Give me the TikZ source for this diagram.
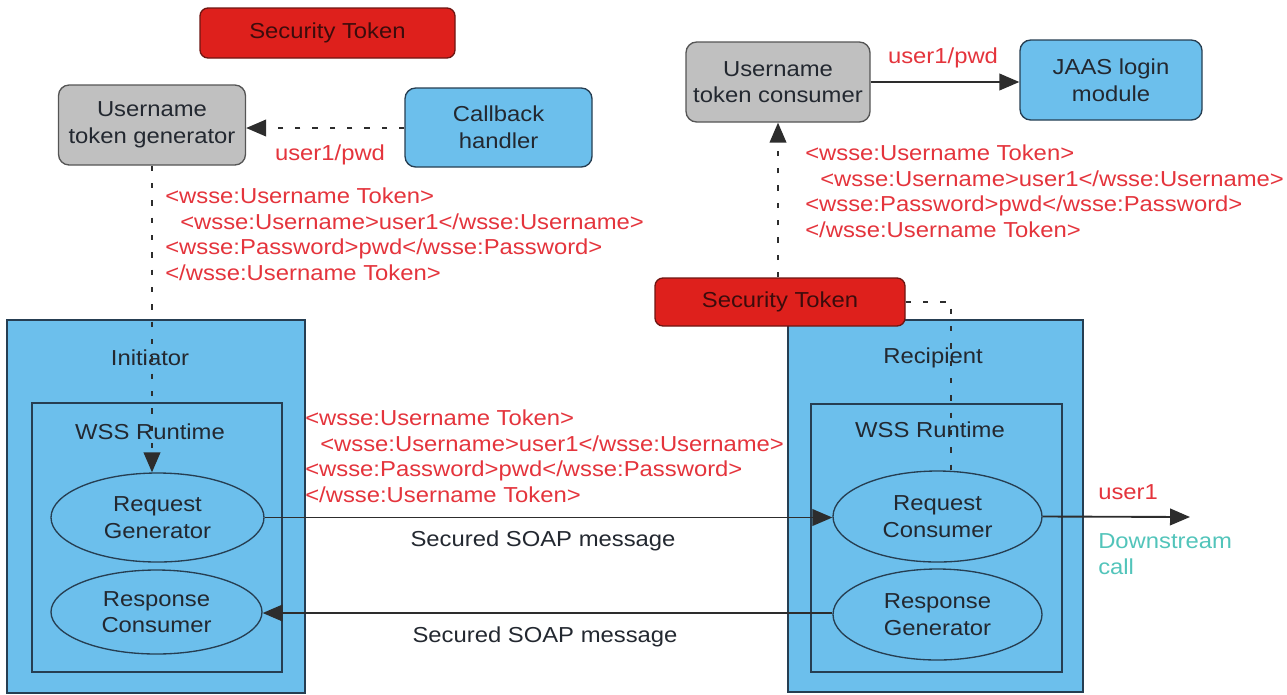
\documentclass[tikz,border=0pt]{standalone}
\usepackage{fontspec}
\setmainfont{Liberation Sans}[FakeStretch=1.1]
\usetikzlibrary{arrows.meta,shapes.geometric}
\definecolor{boxblue}{RGB}{108,191,236}
\definecolor{edgeblue}{RGB}{38,62,82}
\definecolor{tokred}{RGB}{222,32,28}
\definecolor{edgered}{RGB}{110,22,18}
\definecolor{greybox}{RGB}{192,192,192}
\definecolor{edgegrey}{RGB}{85,85,85}
\definecolor{txtred}{RGB}{228,52,60}
\definecolor{txtteal}{RGB}{82,196,186}
\definecolor{lnk}{RGB}{45,45,45}
\definecolor{txtdark}{RGB}{35,40,48}
\definecolor{txttok}{RGB}{60,12,12}
\begin{document}
\begin{tikzpicture}[x=0.75pt,y=-0.75pt,
  every node/.style={font=\fontsize{16.25}{20}\selectfont, inner sep=0pt, text=txtdark},
  sz/.style 2 args={minimum width=#1*0.75pt, minimum height=#2*0.75pt},
  tokbox/.style={draw=edgered, fill=tokred, line width=1pt, rounded corners=6pt, text=txttok},
  greyb/.style={draw=edgegrey, fill=greybox, line width=1pt, rounded corners=8pt, align=center},
  blueb/.style={draw=edgeblue, fill=boxblue, line width=1pt, rounded corners=8pt, align=center},
  frame/.style={draw=edgeblue, fill=boxblue, line width=1.1pt},
  oval/.style={ellipse, draw=edgeblue, fill=boxblue, line width=1pt, align=center},
  xml/.style={anchor=base west, text=txtred},
  redlbl/.style={text=txtred},
  link/.style={draw=lnk, line width=1.4pt},
  tip/.style={-{Triangle[length=15pt,width=12.5pt]}},
  dsh/.style={dash pattern=on 4pt off 9pt},
]
\useasboundingbox (0,0) rectangle (1287,694);

% top left
\node[tokbox, sz={255}{50}] (st1) at (327.5,33) {Security Token};
\node[greyb, sz={187}{80}] (gen) at (152,125) {Username\\token generator};
\node[blueb, sz={187}{79}] (cb) at (498.5,127.5) {Callback\\handler};

% top right
\node[greyb, sz={184}{80}] (cons) at (778,82) {Username\\token consumer};
\node[blueb, sz={182}{80}] (jaas) at (1111,80) {JAAS login\\module};

% containers
\node[frame, sz={298}{373}] (init) at (156,506.5) {};
\node[frame, sz={250}{269}] (wss1) at (157,537.5) {};
\node[frame, sz={295}{372}] (recip) at (935.5,506) {};
\node[frame, sz={251}{268}] (wss2) at (936.5,538) {};

\node (initl) at (150,358) {Initiator};
\node (wss1l) at (150,432) {WSS Runtime};
\node (recipl) at (933,358) {Recipient};
\node (wss2l) at (930,430) {WSS Runtime};

\node[oval, sz={213}{89}] (reqgen) at (157.5,517.5) {Request\\Generator};
\node[oval, sz={211}{84}] (respcons) at (156.5,612) {Response\\Consumer};
\node[oval, sz={209}{91}] (reqcons) at (937.5,516.5) {Request\\Consumer};
\node[oval, sz={209}{91}] (respgen) at (937.5,614.5) {Response\\Generator};

\node[tokbox, sz={250}{48}] (st2) at (780,302) {Security Token};

% connectors
\draw[link, dsh, tip] (cb.west |- 0,128) -- (gen.east |- 0,128);
\node[redlbl] (lbl1) at (330,155) {user1/pwd};

\draw[link, dsh, tip] (gen.south) -- (gen.south |- reqgen.north);

\draw[link, dsh, tip] (cons.south |- st2.north) -- (cons.south);
\coordinate (stend) at (951,471.5);
\draw[link, dsh] (st2.east) -| (stend);

\draw[link, tip] (cons.east) -- (cons.east -| jaas.west);
\node[redlbl] (lbl2) at (943,58) {user1/pwd};

\draw[link, tip] (reqgen.east) -- (reqgen.east -| reqcons.west);
\node (soap1) at (543,541) {Secured SOAP message};
\draw[link, tip] (respgen.west |- 0,613) -- (respcons.east |- 0,613);
\node (soap2) at (545,637) {Secured SOAP message};

\coordinate (ds) at (1190,517);
\draw[link, tip] (reqcons.east) -- (ds);
\node[anchor=west, redlbl] (u1) at (1098,492) {user1};
\node[anchor=north west, align=left, text=txtteal] (dsl) at (1098,533) {Downstream\\call};

% xml blocks
\node[xml] (a1) at (165,203.5) {<wsse:Username Token>};
\node[xml] (a2) at (180,229.2) {<wsse:Username>user1</wsse:Username>};
\node[xml] (a3) at (165,254.9) {<wsse:Password>pwd</wsse:Password>};
\node[xml] (a4) at (165,280.6) {</wsse:Username Token>};

\node[xml] (b1) at (305,425.5) {<wsse:Username Token>};
\node[xml] (b2) at (320,451.2) {<wsse:Username>user1</wsse:Username>};
\node[xml] (b3) at (305,476.9) {<wsse:Password>pwd</wsse:Password>};
\node[xml] (b4) at (305,502.6) {</wsse:Username Token>};

\node[xml] (c1) at (805,160.5) {<wsse:Username Token>};
\node[xml] (c2) at (820,186.2) {<wsse:Username>user1</wsse:Username>};
\node[xml] (c3) at (805,211.9) {<wsse:Password>pwd</wsse:Password>};
\node[xml] (c4) at (805,237.6) {</wsse:Username Token>};
\end{tikzpicture}
\end{document}
